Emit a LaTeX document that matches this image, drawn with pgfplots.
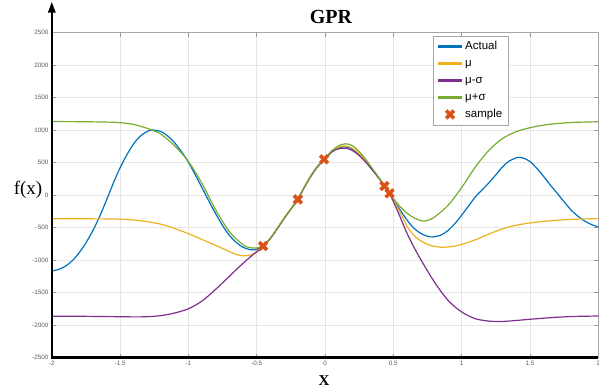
\documentclass[border=0pt]{standalone}
\usepackage{pgfplots}
\pgfplotsset{compat=1.18}
\usepackage{fontspec}
\setmainfont{Liberation Serif}
\newfontfamily\arial{Liberation Sans}
\usetikzlibrary{arrows.meta}
\definecolor{mblue}{rgb}{0,0.447,0.741}
\definecolor{myellow}{rgb}{0.929,0.694,0.125}
\definecolor{mpurple}{rgb}{0.494,0.184,0.556}
\definecolor{mgreen}{rgb}{0.466,0.674,0.188}
\definecolor{morange}{rgb}{0.85,0.325,0.098}
\definecolor{tickgray}{HTML}{5A5A5A}
\definecolor{gridgray}{HTML}{E6E6E6}
\begin{document}
\begin{tikzpicture}[x=1pt,y=1pt]
\path[use as bounding box] (0,0) rectangle (599,389);
\begin{axis}[name=ax,
  at={(51.8pt,31.5pt)}, anchor=south west,
  scale only axis, width=546.5pt, height=325pt,
  xmin=-2, xmax=2, ymin=-2500, ymax=2500,
  xtick={-2,-1.5,-1,-0.5,0,0.5,1,1.5,2},
  ytick={-2500,-2000,-1500,-1000,-500,0,500,1000,1500,2000,2500},
  xticklabels={-2,-1.5,-1,-0.5,0,0.5,1,1.5,2},
  yticklabels={-2500,-2000,-1500,-1000,-500,0,500,1000,1500,2000,2500},
  tick label style={font=\arial\fontsize{6.3}{7}\selectfont, text=tickgray},
  grid=major, major grid style={gridgray, line width=0.5pt},
  tick align=inside, major tick length=4pt,
  tick style={color=gray!80, line width=0.5pt},
  axis line style={gray!70, line width=0.6pt},
  legend image code/.code={\draw[mark repeat=2,mark phase=2,#1] plot coordinates {(0pt,0pt) (12pt,0pt) (24pt,0pt)};},
  legend style={at={(0.698,0.990)}, anchor=north west, draw=gray!70, fill=white,
    font=\arial\fontsize{11.5}{12}\selectfont, inner xsep=3.5pt, inner ysep=2pt,
    nodes={inner sep=2pt, text height=9.5pt, text depth=3.5pt}},
  legend cell align=left,
]
\addplot[mblue, line width=1.2pt, smooth, legend image post style={line width=2.2pt}] table {
x y
-2.00 -1168
-1.95 -1145
-1.90 -1095
-1.85 -1010
-1.80 -890
-1.75 -735
-1.70 -550
-1.65 -330
-1.60 -80
-1.55 180
-1.50 420
-1.45 620
-1.40 790
-1.35 910
-1.30 980
-1.26 1000
-1.20 975
-1.15 905
-1.10 800
-1.05 665
-1.00 505
-0.95 310
-0.90 110
-0.85 -95
-0.80 -290
-0.75 -470
-0.70 -620
-0.65 -730
-0.60 -805
-0.55 -840
-0.52 -845
-0.49 -825
-0.454 -785
-0.40 -665
-0.35 -515
-0.30 -360
-0.25 -215
-0.20 -67
-0.15 126
-0.10 305
-0.05 453
0.00 560
0.05 668
0.10 725
0.15 740
0.20 708
0.25 628
0.30 514
0.35 382
0.40 245
0.435 138
0.47 28
0.50 -60
0.55 -230
0.60 -385
0.65 -510
0.70 -590
0.75 -635
0.79 -645
0.85 -615
0.90 -545
0.95 -440
1.00 -310
1.05 -170
1.10 -30
1.15 80
1.20 190
1.25 310
1.30 435
1.35 525
1.414 580
1.45 570
1.50 515
1.55 410
1.60 285
1.65 150
1.70 25
1.75 -105
1.80 -230
1.85 -325
1.90 -400
1.95 -455
2.00 -490
};
\addlegendentry{Actual}
\addplot[myellow, line width=1.2pt, smooth, legend image post style={line width=2.2pt}] table {
x y
-2.0 -364
-1.8 -366
-1.6 -368
-1.5 -372
-1.4 -385
-1.3 -410
-1.2 -450
-1.1 -515
-1.0 -595
-0.9 -685
-0.8 -775
-0.7 -870
-0.65 -915
-0.60 -935
-0.55 -925
-0.50 -880
-0.454 -785
-0.40 -665
-0.35 -515
-0.30 -360
-0.25 -215
-0.20 -67
-0.15 126
-0.10 305
-0.05 453
0.00 560
0.05 673
0.10 738
0.15 755
0.20 720
0.25 636
0.30 519
0.35 384
0.40 246
0.435 138
0.47 28
0.50 -70
0.55 -270
0.60 -480
0.65 -620
0.70 -705
0.75 -760
0.80 -790
0.85 -803
0.90 -800
0.95 -785
1.00 -760
1.10 -690
1.20 -600
1.30 -520
1.40 -465
1.50 -430
1.60 -405
1.70 -388
1.80 -376
1.90 -368
2.00 -363
};
\addlegendentry{μ}
\addplot[mpurple, line width=1.2pt, smooth, legend image post style={line width=2.2pt}] table {
x y
-2.0 -1865
-1.8 -1866
-1.6 -1870
-1.4 -1875
-1.3 -1872
-1.2 -1855
-1.1 -1815
-1.0 -1750
-0.9 -1630
-0.8 -1450
-0.7 -1250
-0.6 -1050
-0.5 -870
-0.454 -790
-0.40 -670
-0.35 -520
-0.30 -363
-0.25 -218
-0.20 -70
-0.15 122
-0.10 300
-0.05 448
0.00 555
0.05 662
0.10 712
0.15 720
0.20 685
0.25 606
0.30 500
0.35 372
0.40 242
0.435 138
0.47 28
0.50 -100
0.55 -340
0.60 -590
0.65 -800
0.70 -990
0.80 -1338
0.90 -1620
1.00 -1800
1.10 -1903
1.20 -1940
1.30 -1945
1.40 -1930
1.50 -1912
1.60 -1895
1.70 -1880
1.80 -1870
1.90 -1865
2.00 -1862
};
\addlegendentry{μ-σ}
\addplot[mgreen, line width=1.2pt, smooth, legend image post style={line width=2.2pt}] table {
x y
-2.0 1130
-1.8 1128
-1.6 1122
-1.5 1113
-1.4 1085
-1.3 1025
-1.25 985
-1.2 935
-1.1 755
-1.0 515
-0.9 175
-0.8 -230
-0.7 -565
-0.6 -765
-0.55 -810
-0.50 -815
-0.454 -782
-0.40 -662
-0.35 -512
-0.30 -357
-0.25 -212
-0.20 -64
-0.15 130
-0.10 310
-0.05 458
0.00 565
0.05 682
0.10 758
0.15 788
0.20 760
0.25 668
0.30 542
0.35 397
0.40 250
0.435 140
0.47 30
0.50 -55
0.55 -180
0.60 -280
0.65 -350
0.70 -395
0.72 -400
0.75 -392
0.80 -340
0.90 -160
1.00 115
1.10 430
1.20 690
1.30 870
1.40 975
1.50 1035
1.60 1075
1.70 1100
1.80 1115
1.90 1122
2.00 1127
};
\addlegendentry{μ+σ}
\addplot[only marks, mark=x, mark size=5.5pt, line width=3.6pt, color=morange] table {
x y
-0.454 -785
-0.199 -67
-0.007 549
0.435 138
0.472 26
};
\addlegendentry{sample}
\end{axis}
\draw[line width=2.6pt] (ax.south west) -- (ax.south east);
\draw[line width=2.6pt, -{Triangle[width=7pt,length=11pt]}] ([yshift=-1.3pt]ax.south west) -- ([yshift=31pt]ax.north west);
\node[anchor=base, font=\bfseries\fontsize{20}{22}\selectfont] at (331,365.7) {GPR};
\node[font=\fontsize{19}{21}\selectfont] at (28,199) {f(x)};
\node[anchor=base, font=\bfseries\fontsize{15}{17}\selectfont] at (324,4) {X};
\end{tikzpicture}
\end{document}
